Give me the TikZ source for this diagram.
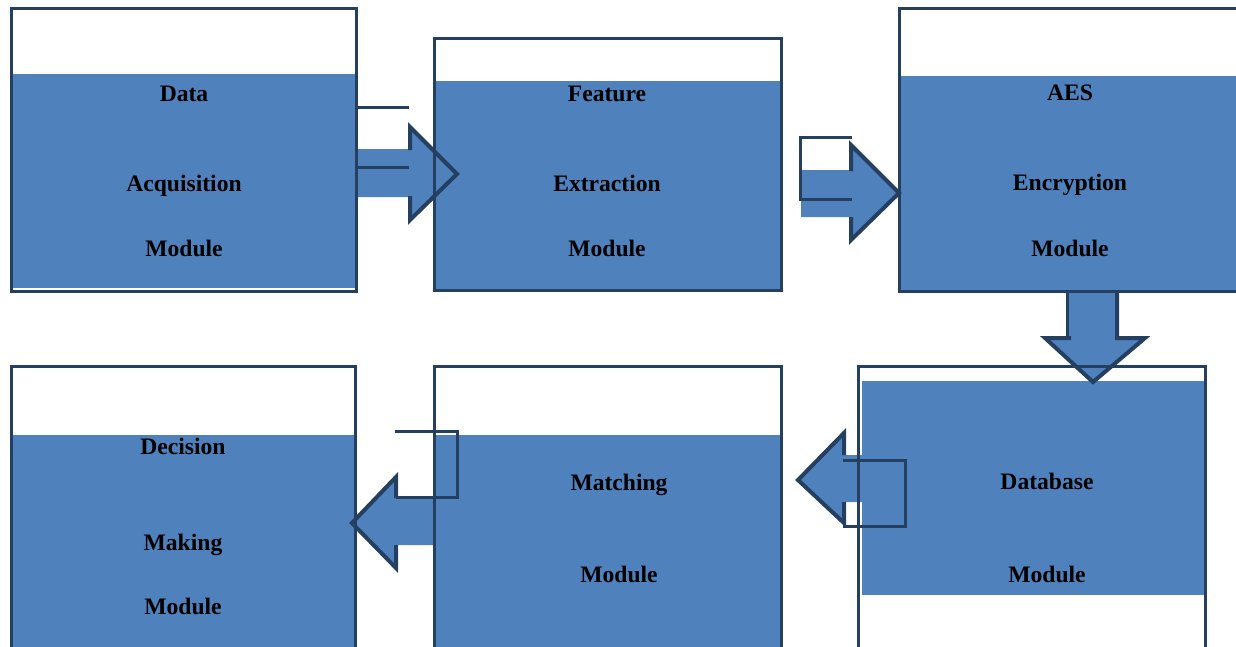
\documentclass[tikz,border=0pt]{standalone}
\usepackage{fontspec}
\setmainfont{Liberation Serif}
\usetikzlibrary{positioning}
\definecolor{modfill}{HTML}{4F81BD}
\definecolor{modline}{HTML}{243F60}

\begin{document}
\begin{tikzpicture}[x=1pt,y=-1pt,
  modbox/.style={draw=modline,line width=3pt,inner sep=0pt},
  lbl/.style={font=\fontsize{23.6}{28}\selectfont\bfseries,inner sep=0pt,anchor=base},
  head/.style={draw=modline,line width=4pt,line join=miter},
  stub/.style={draw=modline,line width=3pt}]
\useasboundingbox (0,0) rectangle (1236,646);
\clip (0,0) rectangle (1236,646);
% box fills
\fill[modfill] (12.5,74) rectangle (355,288);
\fill[modfill] (436,81) rectangle (780,290);
\fill[modfill] (900,76) rectangle (1240,290);
\fill[modfill] (12.5,435) rectangle (355,650);
\fill[modfill] (436,435) rectangle (780,650);
\fill[modfill] (862,381) rectangle (1207,595);
% block arrows
\fill[modfill] (358,149) rectangle (410,197) (410,127) -- (457,174) -- (410,220) -- cycle;
\draw[stub] (357,107) -- (409,107) (357,167) -- (409,167);
\draw[head] (410,150) -- (410,127) -- (457,174) -- (410,220) -- (410,196);
\fill[modfill] (801,170) rectangle (851,217) (851,145) -- (899,193) -- (851,240) -- cycle;
\draw[stub] (852,137) -- (800,137) -- (800,199) -- (852,199);
\draw[head] (851,171) -- (851,145) -- (899,193) -- (851,240) -- (851,217);
\fill[modfill] (1068,291) rectangle (1117,338) (1045,338) -- (1093,382) -- (1145,338) -- cycle;
\draw[stub] (1067,291) -- (1067,338);
\draw[head] (1071,338) -- (1045,338) -- (1093,382) -- (1145,338) -- (1117,338) -- (1117,291);
\fill[modfill] (844,455) rectangle (862,502) (844,433) -- (798,480) -- (844,523) -- cycle;
\draw[head] (844,455) -- (844,433) -- (798,480) -- (844,523) -- (844,502);
\draw[stub] (843,460) -- (905,460) -- (905,526) -- (843,526);
\fill[modfill] (396,498) rectangle (435,545) (396,477) -- (352,523) -- (396,568) -- cycle;
\draw[head] (396,498) -- (396,477) -- (352,523) -- (396,568) -- (396,545);
\draw[stub] (395,431) -- (457,431) -- (457,497) -- (396,497);
% box outlines
\node[modbox,minimum width=345pt,minimum height=283.4pt] (acq) at (184.2,150) {};
\node[modbox,minimum width=346.7pt,minimum height=252.4pt] (feat) at (608.3,164.5) {};
\node[modbox,minimum width=350.7pt,minimum height=282.7pt] (aes) at (1074.6,149.7) {};
\node[modbox,minimum width=344pt,minimum height=334pt] (dec) at (183.7,533) {};
\node[modbox,minimum width=346.7pt,minimum height=334pt] (match) at (608.3,533) {};
\node[modbox,minimum width=346.7pt,minimum height=334pt] (db) at (1032.3,533) {};
% labels
\node[lbl] (acqA) at (184,101) {Data};
\node[lbl] (acqB) at (184,191) {Acquisition};
\node[lbl] (acqC) at (184,256.5) {Module};
\node[lbl] (featA) at (607,101) {Feature};
\node[lbl] (featB) at (607,191) {Extraction};
\node[lbl] (featC) at (607,256.5) {Module};
\node[lbl] (aesA) at (1070,100.5) {AES};
\node[lbl] (aesB) at (1070,190.7) {Encryption};
\node[lbl] (aesC) at (1070,256.5) {Module};
\node[lbl] (decA) at (183,454) {Decision};
\node[lbl] (decB) at (183,550.7) {Making};
\node[lbl] (decC) at (183,614) {Module};
\node[lbl] (matchA) at (619,490) {Matching};
\node[lbl] (matchB) at (619,582.3) {Module};
\node[lbl] (dbA) at (1047,489.3) {Database};
\node[lbl] (dbB) at (1047,582.3) {Module};
\end{tikzpicture}
\end{document}
